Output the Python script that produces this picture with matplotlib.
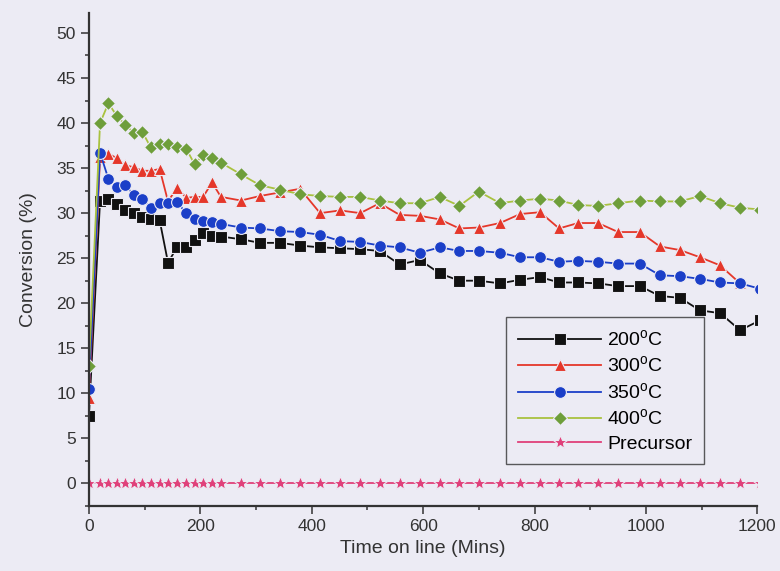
import matplotlib.pyplot as plt
from matplotlib.ticker import MultipleLocator

# sampling times (min) shared by all runs
times = [0, 20, 35, 50, 65, 81, 96, 111, 127, 142, 158, 175, 190, 205, 221, 237,
         273, 307, 343, 379, 415, 451, 487, 522, 558, 594, 630, 665, 700, 738,
         774, 810, 844, 878, 914, 950, 989, 1025, 1061, 1097, 1133, 1169, 1205]

conv_200 = [7.5, 31.4, 31.6, 31.0, 30.3, 30.0, 29.6, 29.4, 29.2, 24.5, 26.2, 26.2,
            27.0, 27.8, 27.5, 27.4, 27.1, 26.7, 26.7, 26.4, 26.2, 26.1, 26.0, 25.8,
            24.3, 24.8, 23.3, 22.5, 22.5, 22.2, 22.6, 22.9, 22.3, 22.3, 22.2, 21.9,
            21.9, 20.8, 20.6, 19.2, 18.9, 17.0, 18.1]
conv_300 = [9.5, 36.2, 36.6, 36.1, 35.3, 35.1, 34.7, 34.7, 34.9, 31.3, 32.8, 31.7,
            31.8, 31.8, 33.4, 31.8, 31.4, 31.9, 32.3, 32.7, 30.0, 30.3, 30.0, 31.1,
            29.8, 29.7, 29.3, 28.3, 28.4, 28.9, 29.9, 30.1, 28.3, 28.9, 28.9, 27.9,
            27.9, 26.3, 25.9, 25.1, 24.2, 22.2]
conv_350 = [10.5, 36.7, 33.8, 32.9, 33.1, 32.0, 31.6, 30.6, 31.1, 31.1, 31.2, 30.0,
            29.4, 29.1, 29.0, 28.8, 28.4, 28.3, 28.0, 27.9, 27.6, 26.9, 26.8, 26.4,
            26.2, 25.6, 26.2, 25.8, 25.8, 25.6, 25.1, 25.1, 24.6, 24.7, 24.6, 24.4,
            24.4, 23.1, 23.0, 22.7, 22.3, 22.2, 21.6]
conv_400 = [13.0, 40.0, 42.2, 40.8, 39.8, 38.9, 39.0, 37.3, 37.7, 37.7, 37.3, 37.1,
            35.4, 36.5, 36.1, 35.6, 34.3, 33.1, 32.6, 32.1, 31.9, 31.8, 31.8, 31.4,
            31.1, 31.1, 31.8, 30.8, 32.4, 31.1, 31.4, 31.6, 31.4, 30.9, 30.8, 31.1,
            31.4, 31.3, 31.3, 31.9, 31.1, 30.6, 30.4]
conv_precursor = [0.0] * len(times)

bg = '#ECEBF4'
plt.rcParams['font.family'] = ['Liberation Sans', 'DejaVu Sans']
plt.rcParams['mathtext.fontset'] = 'custom'
plt.rcParams['mathtext.rm'] = 'Liberation Sans'

fig = plt.figure(figsize=(7.8, 5.71), dpi=100, facecolor=bg)
ax = fig.add_axes([0.114, 0.114, 0.857, 0.863], facecolor=bg)

series = [
    (conv_200, 's', '#111111', '#111111', '200$^\\mathrm{o}$C', 8),
    (conv_300, '^', '#E5372A', '#E5372A', '300$^\\mathrm{o}$C', 9),
    (conv_350, 'o', '#1B3FC8', '#1B3FC8', '350$^\\mathrm{o}$C', 8.5),
    (conv_400, 'D', '#A9C23F', '#6E9E3A', '400$^\\mathrm{o}$C', 7.5),
    (conv_precursor, '*', '#E0407A', '#E0407A', 'Precursor', 10),
]
for vals, mk, lc, mc, lab, ms in series:
    ax.plot(times[:len(vals)], vals, color=lc, lw=1.3, marker=mk, ms=ms,
            mfc=mc, mec=bg, mew=0.8, label=lab)

ax.set_xlim(0, 1200)
ax.set_ylim(-2.5, 52.2)
ax.xaxis.set_major_locator(MultipleLocator(200))
ax.xaxis.set_minor_locator(MultipleLocator(100))
ax.yaxis.set_major_locator(MultipleLocator(5))
ax.yaxis.set_minor_locator(MultipleLocator(2.5))
ax.tick_params(which='both', direction='out', colors='#333333', labelsize=12.5, width=1.1)
ax.tick_params(which='major', length=6)
ax.tick_params(which='minor', length=3)

for s in ['top', 'right']:
    ax.spines[s].set_visible(False)
for s in ['left', 'bottom']:
    ax.spines[s].set_linewidth(1.6)
    ax.spines[s].set_color('#333333')

ax.set_xlabel('Time on line (Mins)', fontsize=14, color='#333333', labelpad=4)
ax.set_ylabel('Conversion (%)', fontsize=14, color='#333333', labelpad=14)

leg = ax.legend(loc='upper left', bbox_to_anchor=(0.624, 0.383), borderaxespad=0,
                fontsize=14, frameon=True, fancybox=False, handlelength=4.3,
                handletextpad=0.3, labelspacing=0.3, borderpad=0.6)
leg.get_frame().set_edgecolor('#333333')
leg.get_frame().set_facecolor(bg)
leg.get_frame().set_linewidth(1.0)

fig.savefig('out.png', dpi=100, facecolor=bg)
